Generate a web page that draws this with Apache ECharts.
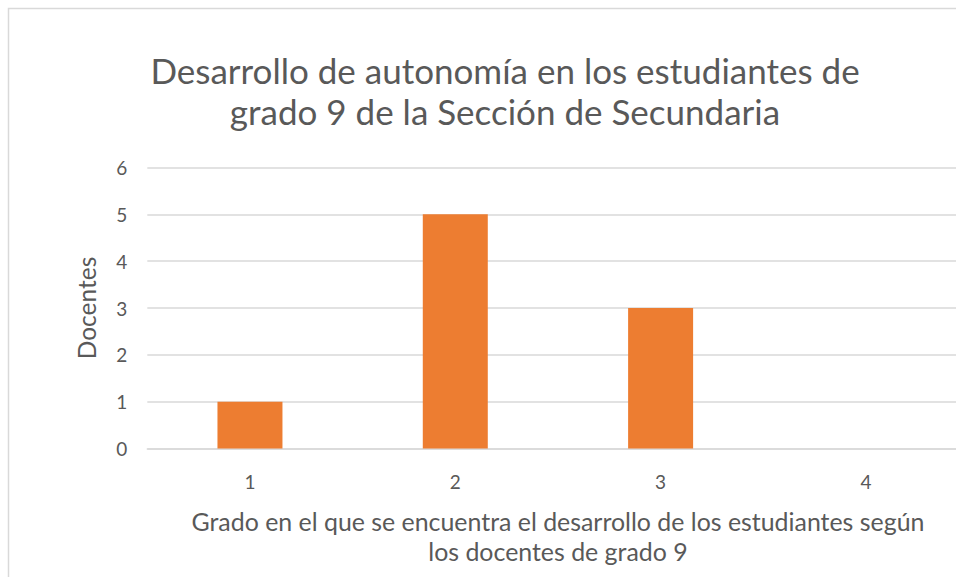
<!DOCTYPE html>
<html><head><meta charset="utf-8">
<script src="https://cdn.jsdelivr.net/npm/echarts@6/dist/echarts.min.js"></script>
<style>html,body{margin:0;padding:0;background:#fff}#c{width:956px;height:577px}</style>
</head><body><div id="c"></div>
<script>
const categories = ['1', '2', '3', '4'];
const docentes = [1, 5, 3, 0];
const titleLines = ['Desarrollo de autonomía en los estudiantes de', 'grado 9 de la Sección de Secundaria'];
const xName = 'Grado en el que se encuentra el desarrollo de los estudiantes según\nlos docentes de grado 9';
const yName = 'Docentes';

const FONT = 'Lato';
const chart = echarts.init(document.getElementById('c'), null, {renderer: 'svg'});
chart.setOption({
  animation: false,
  graphic: [{
    type: 'rect', shape: {x: 8.5, y: 8.5, width: 1200, height: 1200},
    style: {fill: 'none', stroke: '#d9d9d9', lineWidth: 1.5}, silent: true
  }],
  title: {
    text: titleLines.join('\n'),
    left: 500, top: 44, textAlign: 'center',
    textStyle: {fontFamily: FONT, fontSize: 35, fontWeight: 'normal', color: '#595959', lineHeight: 41}
  },
  grid: {left: 147.3, width: 821.3, top: 167.5, height: 281, containLabel: false, outerBoundsMode: 'none'},
  xAxis: {
    type: 'category', data: categories,
    name: xName, nameLocation: 'middle', nameGap: 57,
    nameTextStyle: {fontFamily: FONT, fontSize: 24.9, color: '#595959', lineHeight: 30},
    axisLine: {show: true, lineStyle: {color: '#d9d9d9', width: 1.5}},
    axisTick: {show: false},
    axisLabel: {fontFamily: FONT, fontSize: 19, color: '#595959', margin: 23}
  },
  yAxis: {
    type: 'value', min: 0, max: 6, interval: 1,
    name: yName, nameLocation: 'middle', nameGap: 48, nameRotate: 90,
    nameTextStyle: {fontFamily: FONT, fontSize: 24.5, color: '#595959'},
    axisLine: {show: false}, axisTick: {show: false},
    axisLabel: {fontFamily: FONT, fontSize: 19, color: '#595959', margin: 20},
    splitLine: {lineStyle: {color: '#d9d9d9', width: 1.5}}
  },
  series: [{
    type: 'bar', data: docentes, barWidth: 65,
    itemStyle: {color: '#ed7d31'}
  }]
});
</script></body></html>
